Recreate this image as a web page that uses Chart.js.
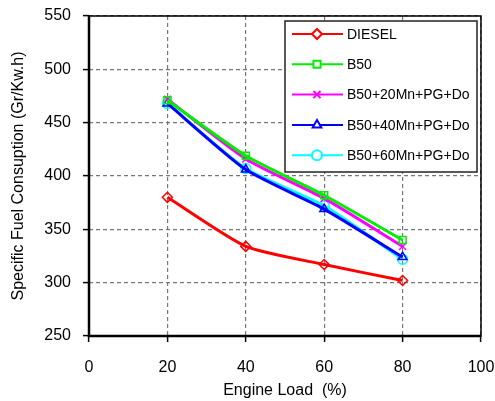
<!DOCTYPE html>
<html lang="en">
<head>
<meta charset="UTF-8">
<title>Specific Fuel Consumption</title>
<script src="https://cdn.jsdelivr.net/npm/chart.js"></script>
<style>
  html, body { margin: 0; padding: 0; background: #fff; }
  #wrap { width: 495px; height: 401px; }
</style>
</head>
<body>
<div id="wrap"><canvas id="sfcChart"></canvas></div>
<script>
// engine load (%)
const loads = [20, 40, 60, 80];

// specific fuel consumption (Gr/Kw.h)
const diesel = [380, 334, 317, 302];
const b50 = [471, 419, 382, 340];
const b50mn20 = [472, 416, 379, 334];
const b50mn40 = [468, 406, 369, 324];
const b50mn60 = [468, 407, 372, 322];

const seriesNames = ['DIESEL', 'B50', 'B50+20Mn+PG+Do', 'B50+40Mn+PG+Do', 'B50+60Mn+PG+Do'];

const xTicks = [0, 20, 40, 60, 80, 100];
const yTicks = [250, 300, 350, 400, 450, 500, 550];

const FONT = '"Liberation Sans", Arial, sans-serif';

function series(label, values, color, marker) {
    return {
        label: label,
        data: loads.map((x, i) => ({ x: x, y: values[i] })),
        borderColor: color,
        backgroundColor: 'rgba(255,255,255,0)',
        borderWidth: 3,
        pointStyle: marker,
        pointRadius: 5,
        pointBorderWidth: 1.5,
        pointBorderColor: color,
        tension: 0.2
    };
}

// frame around the plot and the legend box in the upper right
const framePlugin = {
    id: 'frame',
    afterDraw(chart) {
        const { ctx, chartArea: a } = chart;
        ctx.save();
        ctx.strokeStyle = '#000';
        ctx.lineWidth = 1.5;
        ctx.strokeRect(a.left, a.top, a.right - a.left, a.bottom - a.top);
        ctx.lineWidth = 2.5;
        ctx.beginPath();
        ctx.moveTo(a.left, a.top);
        ctx.lineTo(a.left, a.bottom);
        ctx.lineTo(a.right, a.bottom);
        ctx.stroke();

        // legend
        const bx = 285, by = 21, bw = 192, bh = 151;
        ctx.fillStyle = '#fff';
        ctx.fillRect(bx, by, bw, bh);
        ctx.lineWidth = 1.5;
        ctx.strokeStyle = '#222';
        ctx.strokeRect(bx, by, bw, bh);
        ctx.font = '14px ' + FONT;
        ctx.textBaseline = 'middle';
        ctx.textAlign = 'left';
        chart.data.datasets.forEach((ds, i) => {
            const y = 34 + i * 30.3;
            ctx.strokeStyle = ds.borderColor;
            ctx.lineWidth = 2;
            ctx.beginPath();
            ctx.moveTo(292, y);
            ctx.lineTo(343, y);
            ctx.stroke();
            ctx.fillStyle = '#fff';
            Chart.helpers.drawPoint(ctx, {
                pointStyle: ds.pointStyle, radius: 5, borderWidth: 1.5
            }, 317, y);
            ctx.fillStyle = '#000';
            ctx.fillText(ds.label, 347, y + 1);
        });
        ctx.restore();
    }
};

const gridStyle = {
    color: '#777',
    lineWidth: 1.2,
    tickColor: '#000',
    tickBorderDash: [],
    tickLength: 6,
    tickWidth: 1.5
};

new Chart(document.getElementById('sfcChart'), {
    type: 'line',
    data: {
        datasets: [
            series(seriesNames[0], diesel, '#ff0000', 'rectRot'),
            series(seriesNames[1], b50, '#00ee00', 'rect'),
            series(seriesNames[2], b50mn20, '#ff00ff', 'crossRot'),
            series(seriesNames[3], b50mn40, '#0000ff', 'triangle'),
            series(seriesNames[4], b50mn60, '#00ffff', 'circle')
        ]
    },
    options: {
        responsive: true,
        maintainAspectRatio: false,
        animation: false,
        layout: { padding: { top: 16, right: 14, left: 9, bottom: 0 } },
        plugins: {
            legend: { display: false },
            tooltip: { enabled: false }
        },
        scales: {
            x: {
                type: 'linear',
                min: 0,
                max: 100,
                afterBuildTicks(scale) { scale.ticks = xTicks.map(v => ({ value: v })); },
                afterFit(scale) {
                    scale.height = 65;
                    // let the "100" label run past the plot edge
                    scale.paddingLeft = 0;
                    scale.paddingRight = 0;
                },
                grid: gridStyle,
                border: { display: false, dash: [4, 3] },
                ticks: {
                    color: '#000',
                    font: { family: FONT, size: 16 },
                    padding: 16
                },
                title: {
                    display: true,
                    text: 'Engine Load  (%)',
                    color: '#000',
                    font: { family: FONT, size: 16 },
                    padding: { top: 0, bottom: 1 }
                }
            },
            y: {
                min: 250,
                max: 550,
                afterBuildTicks(scale) { scale.ticks = yTicks.map(v => ({ value: v })); },
                afterFit(scale) {
                    scale.width = 80;
                    scale.paddingTop = 0;
                    scale.paddingBottom = 0;
                },
                grid: gridStyle,
                border: { display: false, dash: [4, 3] },
                ticks: {
                    color: '#000',
                    font: { family: FONT, size: 16 },
                    padding: 12
                },
                title: {
                    display: true,
                    text: 'Specific Fuel Consuption (Gr/Kw.h)',
                    color: '#000',
                    font: { family: FONT, size: 16 },
                    padding: { top: 0, bottom: 4 }
                }
            }
        }
    },
    plugins: [framePlugin]
});
</script>
</body>
</html>
